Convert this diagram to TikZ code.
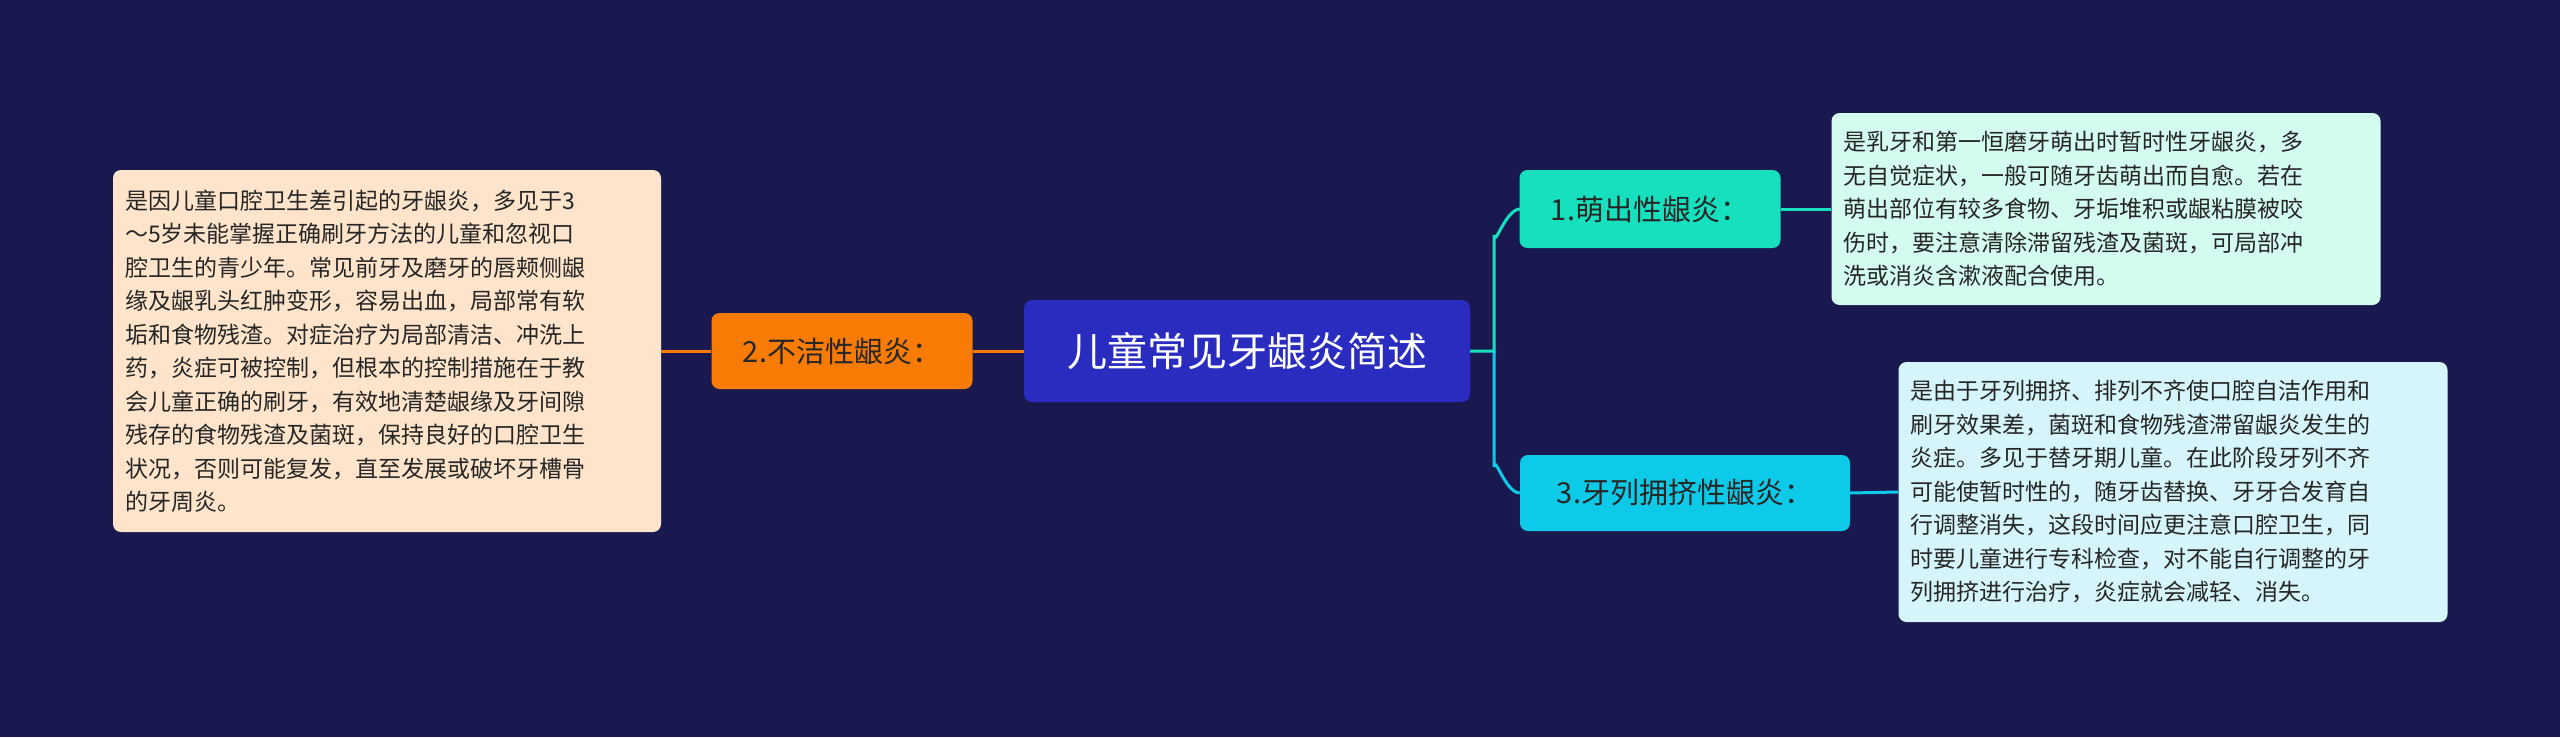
\documentclass[tikz,border=0pt]{standalone}
\usepackage{fontspec}
\setmainfont{Noto Sans CJK SC}
\begin{document}
\begin{tikzpicture}[x=1pt,y=-1pt,
  box/.style={rounded corners=8pt,inner sep=0pt,align=left,font=\fontsize{23}{33.5}\selectfont,text=black!85},
  tag/.style={rounded corners=8pt,inner sep=0pt,font=\fontsize{29}{34}\selectfont},
  lk/.style={line width=3pt}]
\fill[fill={rgb,255:red,25;green,25;blue,80}] (0,0) rectangle (2560,737);
\useasboundingbox (0,0) rectangle (2560,737);
\definecolor{ctr}{RGB}{42,44,192}
\definecolor{org}{RGB}{247,123,5}
\definecolor{grn}{RGB}{22,224,189}
\definecolor{cyn}{RGB}{13,203,232}
\node[tag,fill=ctr,text=white,minimum width=446pt,minimum height=102pt,font=\fontsize{40}{44}\selectfont] (c) at (1247,351) {儿童常见牙龈炎简述};
\node[tag,fill=org,text=black!85,minimum width=261pt,minimum height=76pt] (l) at (842,351) {2.不洁性龈炎：};
\node[box,fill={rgb,255:red,253;green,228;blue,202},minimum width=548pt,minimum height=362pt,text width=524pt] (lt) at (387,351) {是因儿童口腔卫生差引起的牙龈炎，多见于3\\～5岁未能掌握正确刷牙方法的儿童和忽视口\\腔卫生的青少年。常见前牙及磨牙的唇颊侧龈\\缘及龈乳头红肿变形，容易出血，局部常有软\\垢和食物残渣。对症治疗为局部清洁、冲洗上\\药，炎症可被控制，但根本的控制措施在于教\\会儿童正确的刷牙，有效地清楚龈缘及牙间隙\\残存的食物残渣及菌斑，保持良好的口腔卫生\\状况，否则可能复发，直至发展或破坏牙槽骨\\的牙周炎。};
\node[tag,fill=grn,text=black!85,minimum width=261pt,minimum height=78pt] (r1) at (1650,209) {1.萌出性龈炎：};
\node[box,fill={rgb,255:red,212;green,251;blue,239},minimum width=549pt,minimum height=192pt,text width=525pt] (t1) at (2106,209) {是乳牙和第一恒磨牙萌出时暂时性牙龈炎，多\\无自觉症状，一般可随牙齿萌出而自愈。若在\\萌出部位有较多食物、牙垢堆积或龈粘膜被咬\\伤时，要注意清除滞留残渣及菌斑，可局部冲\\洗或消炎含漱液配合使用。};
\node[tag,fill=cyn,text=black!85,minimum width=330pt,minimum height=76pt] (r3) at (1685,493) {3.牙列拥挤性龈炎：};
\node[box,fill={rgb,255:red,213;green,245;blue,251},minimum width=549pt,minimum height=260pt,text width=525pt] (t3) at (2173,492) {是由于牙列拥挤、排列不齐使口腔自洁作用和\\刷牙效果差，菌斑和食物残渣滞留龈炎发生的\\炎症。多见于替牙期儿童。在此阶段牙列不齐\\可能使暂时性的，随牙齿替换、牙牙合发育自\\行调整消失，这段时间应更注意口腔卫生，同\\时要儿童进行专科检查，对不能自行调整的牙\\列拥挤进行治疗，炎症就会减轻、消失。};
\draw[lk,org] (c.west) -- (l.east);
\draw[lk,org] (l.west) -- (lt.east);
\draw[lk,grn] (c.east) -- (1494,351) -- (1494,235) to[out=-90,in=180] (1520,209);
\draw[lk,cyn] (1494,351) -- (1494,467) to[out=90,in=180] (r3.west);
\draw[lk,grn] (r1.east) -- (t1.west);
\draw[lk,cyn] (r3.east) -- (t3.west);
\end{tikzpicture}
\end{document}
